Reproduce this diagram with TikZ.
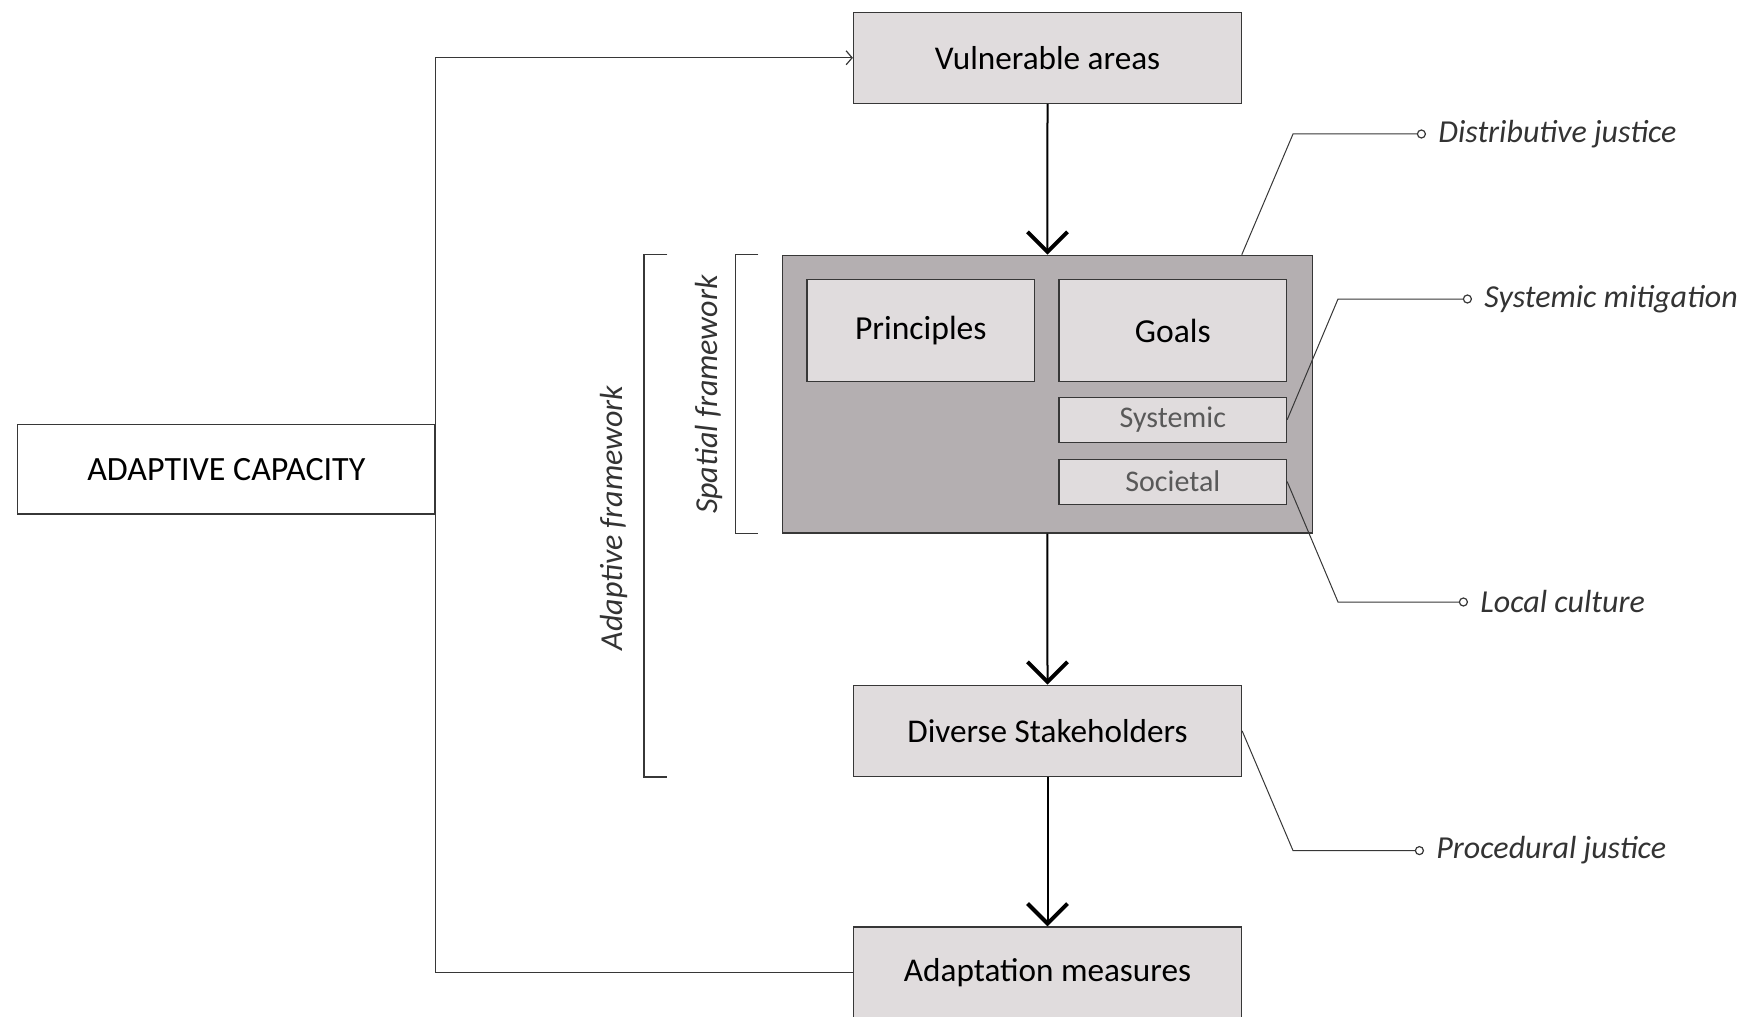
\documentclass[tikz,border=0pt]{standalone}
\usepackage{fontspec}
\setmainfont{Carlito}
\usepackage{xcolor}
\usetikzlibrary{arrows.meta}
\definecolor{boxfill}{RGB}{224,220,221}
\definecolor{framefill}{RGB}{180,175,177}
\definecolor{edgegrey}{RGB}{55,55,55}
\begin{document}
\begin{tikzpicture}[x=0.5pt, y=-0.5pt, font=\fontsize{16.6}{20}\selectfont,
  bx/.style={draw=edgegrey, line width=0.6pt, fill=boxfill, minimum width=194pt, minimum height=45.5pt, inner sep=0pt},
  big/.style={bx, font=\fontsize{16.8}{20}\selectfont, minimum width=113.75pt, minimum height=50.75pt},
  sub/.style={bx, minimum width=113.75pt, minimum height=22.5pt, text=black!65, font=\fontsize{15}{18}\selectfont},
  flow/.style={line width=1pt, -{Straight Barb[length=10pt, width=20pt, line width=2pt]}},
  feed/.style={line width=0.6pt, edgegrey, -{Straight Barb[length=3pt, width=7pt, line width=0.6pt]}},
  bracket/.style={line width=0.6pt, edgegrey},
  lead/.style={line width=0.5pt, edgegrey, shorten >=6pt, -{Circle[open, length=4.6pt, width=4.6pt, fill=white, line width=0.6pt]}},
  note/.style={font=\fontsize{16}{19}\selectfont\itshape, text=black!80, anchor=west, inner sep=0pt},
  side/.style={font=\fontsize{16}{19}\selectfont\itshape, text=black!80, rotate=90, inner sep=0pt}]
  \useasboundingbox (0,0) rectangle (1748,1016);
  % main chain
  \node[bx, fill=white, minimum width=208.5pt, minimum height=44.6pt, font=\fontsize{17}{20}\selectfont] (cap) at (226.3,469.3) {ADAPTIVE CAPACITY};
  \node[bx] (vuln) at (1047.5,57.8) {Vulnerable areas};
  \node[bx, fill=framefill, minimum width=264.75pt, minimum height=138.8pt] (spatial) at (1047.4,394.1) {};
  \node[big] (princ) at (920.8,330.5) {Principles};
  \node[big] (goals) at (1172.8,330.5) {Goals};
  \node[sub] (syst) at (1172.8,419.8) {Systemic};
  \node[sub] (soc) at (1172.8,481.6) {Societal};
  \node[bx] (stake) at (1047.5,730.8) {Diverse Stakeholders};
  \node[bx] (meas) at (1047.5,972.5) {Adaptation measures};
  \draw[flow] (vuln) -- (spatial);
  \draw[flow] (spatial) -- (stake);
  \draw[flow] (stake) -- (meas);
  \draw[feed] (meas.west) -| (cap.east) |- (vuln.west);
  % brackets
  \draw[bracket] ([xshift=-11.8pt]spatial.north west) -| ([xshift=-23.4pt]spatial.south west) -- ([xshift=-11.8pt]spatial.south west);
  \draw[bracket] ([xshift=-57.4pt]spatial.north west) -| ([xshift=-69pt]spatial.north west |- stake.south) -- ([xshift=-57.4pt]spatial.north west |- stake.south);
  \node[side] (adfw) at (614,518) {Adaptive framework};
  \node[side] (spfw) at (709,394.6) {Spatial framework};
  % justice notes
  \node[note] (distj) at (1438,134) {Distributive justice};
  \node[note] (sysm) at (1484,299) {Systemic mitigation};
  \node[note] (locc) at (1480,602) {Local culture};
  \node[note] (procj) at (1436,850.6) {Procedural justice};
  \coordinate (k1) at (1293,134);
  \coordinate (k2) at (1338,299);
  \coordinate (k3) at (1338,602);
  \coordinate (k4) at (1293,850.6);
  \draw[lead] ([xshift=-35.5pt]spatial.north east) -- (k1) -- (distj.west);
  \draw[lead] (syst.east) -- (k2) -- (sysm.west);
  \draw[lead] (soc.east) -- (k3) -- (locc.west);
  \draw[lead] (stake.east) -- (k4) -- (procj.west);
\end{tikzpicture}
\end{document}
